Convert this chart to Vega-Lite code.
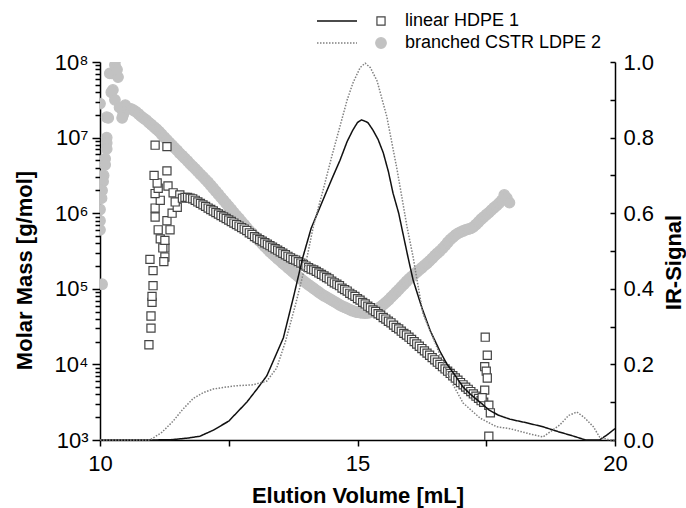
{
  "$schema": "https://vega.github.io/schema/vega-lite/v6.json",
  "width": 515,
  "height": 378,
  "autosize": {"type": "none"},
  "padding": {"left": 100, "top": 62, "right": 71, "bottom": 68},
  "background": "white",
  "config": {
    "font": "Liberation Sans",
    "view": {"stroke": null},
    "axis": {
      "grid": false,
      "domainColor": "#000",
      "domainWidth": 1.5,
      "tickColor": "#000",
      "tickWidth": 1.5,
      "labelColor": "#000",
      "titleColor": "#000",
      "labelFont": "Liberation Sans",
      "titleFont": "Liberation Sans",
      "labelFontSize": 22,
      "titleFontSize": 22,
      "titleFontWeight": "bold",
      "labelOverlap": false,
      "labelFlush": false
    },
    "legend": {"labelFont": "Liberation Sans", "labelColor": "#000", "labelLimit": 0}
  },
  "datasets": {
    "mm": [
      {"v": 10.0, "m": 2.82e7, "s": "L"},
      {"v": 10.13, "m": 1.86e7, "s": "L"},
      {"v": 10.13, "m": 1.0e7, "s": "L"},
      {"v": 10.13, "m": 8.51e6, "s": "L"},
      {"v": 10.13, "m": 7.08e6, "s": "L"},
      {"v": 10.1, "m": 5.25e6, "s": "L"},
      {"v": 10.1, "m": 4.37e6, "s": "L"},
      {"v": 10.07, "m": 3.16e6, "s": "L"},
      {"v": 10.06, "m": 2.63e6, "s": "L"},
      {"v": 10.04, "m": 2.0e6, "s": "L"},
      {"v": 10.03, "m": 1.58e6, "s": "L"},
      {"v": 10.0, "m": 1.12e6, "s": "L"},
      {"v": 10.0, "m": 7.94e5, "s": "L"},
      {"v": 10.0, "m": 6.03e5, "s": "L"},
      {"v": 10.04, "m": 1.15e5, "s": "L"},
      {"v": 10.19, "m": 7.08e7, "s": "L"},
      {"v": 10.23, "m": 7.08e7, "s": "L"},
      {"v": 10.29, "m": 9.12e7, "s": "L"},
      {"v": 10.3, "m": 1.07e8, "s": "L"},
      {"v": 10.35, "m": 6.31e7, "s": "L"},
      {"v": 10.33, "m": 7.94e7, "s": "L"},
      {"v": 10.25, "m": 4.27e7, "s": "L"},
      {"v": 10.22, "m": 3.98e7, "s": "L"},
      {"v": 10.29, "m": 3.16e7, "s": "L"},
      {"v": 10.43, "m": 2.34e7, "s": "L"},
      {"v": 10.45, "m": 2.0e7, "s": "L"},
      {"v": 10.49, "m": 2.69e7, "s": "L"},
      {"v": 10.43, "m": 1.82e7, "s": "L"},
      {"v": 10.16, "m": 1.82e7, "s": "L"},
      {"v": 10.38, "m": 2.51e7, "s": "L"},
      {"v": 10.52, "m": 2.51e7, "s": "L"},
      {"v": 10.6, "m": 2.4e7, "s": "L"},
      {"v": 10.65, "m": 2.3e7, "s": "L"},
      {"v": 10.7, "m": 2.19e7, "s": "L"},
      {"v": 10.75, "m": 2.05e7, "s": "L"},
      {"v": 10.8, "m": 1.91e7, "s": "L"},
      {"v": 10.85, "m": 1.8e7, "s": "L"},
      {"v": 10.9, "m": 1.7e7, "s": "L"},
      {"v": 10.95, "m": 1.58e7, "s": "L"},
      {"v": 11.0, "m": 1.48e7, "s": "L"},
      {"v": 11.05, "m": 1.38e7, "s": "L"},
      {"v": 11.1, "m": 1.29e7, "s": "L"},
      {"v": 11.15, "m": 1.2e7, "s": "L"},
      {"v": 11.2, "m": 1.1e7, "s": "L"},
      {"v": 11.25, "m": 1.01e7, "s": "L"},
      {"v": 11.3, "m": 9.33e6, "s": "L"},
      {"v": 11.35, "m": 8.6e6, "s": "L"},
      {"v": 11.4, "m": 7.94e6, "s": "L"},
      {"v": 11.45, "m": 7.3e6, "s": "L"},
      {"v": 11.5, "m": 6.76e6, "s": "L"},
      {"v": 11.55, "m": 6.2e6, "s": "L"},
      {"v": 11.6, "m": 5.75e6, "s": "L"},
      {"v": 11.65, "m": 5.3e6, "s": "L"},
      {"v": 11.7, "m": 4.9e6, "s": "L"},
      {"v": 11.75, "m": 4.5e6, "s": "L"},
      {"v": 11.8, "m": 4.17e6, "s": "L"},
      {"v": 11.85, "m": 3.85e6, "s": "L"},
      {"v": 11.9, "m": 3.55e6, "s": "L"},
      {"v": 11.95, "m": 3.27e6, "s": "L"},
      {"v": 12.0, "m": 3.02e6, "s": "L"},
      {"v": 12.05, "m": 2.78e6, "s": "L"},
      {"v": 12.1, "m": 2.57e6, "s": "L"},
      {"v": 12.15, "m": 2.34e6, "s": "L"},
      {"v": 12.2, "m": 2.14e6, "s": "L"},
      {"v": 12.25, "m": 1.95e6, "s": "L"},
      {"v": 12.3, "m": 1.78e6, "s": "L"},
      {"v": 12.35, "m": 1.62e6, "s": "L"},
      {"v": 12.4, "m": 1.48e6, "s": "L"},
      {"v": 12.45, "m": 1.35e6, "s": "L"},
      {"v": 12.5, "m": 1.23e6, "s": "L"},
      {"v": 12.55, "m": 1.12e6, "s": "L"},
      {"v": 12.6, "m": 1.02e6, "s": "L"},
      {"v": 12.65, "m": 9.3e5, "s": "L"},
      {"v": 12.7, "m": 8.51e5, "s": "L"},
      {"v": 12.75, "m": 7.75e5, "s": "L"},
      {"v": 12.8, "m": 7.08e5, "s": "L"},
      {"v": 12.85, "m": 6.45e5, "s": "L"},
      {"v": 12.9, "m": 5.89e5, "s": "L"},
      {"v": 12.95, "m": 5.45e5, "s": "L"},
      {"v": 13.0, "m": 5.01e5, "s": "L"},
      {"v": 13.05, "m": 4.63e5, "s": "L"},
      {"v": 13.1, "m": 4.27e5, "s": "L"},
      {"v": 13.15, "m": 3.94e5, "s": "L"},
      {"v": 13.2, "m": 3.63e5, "s": "L"},
      {"v": 13.25, "m": 3.35e5, "s": "L"},
      {"v": 13.3, "m": 3.09e5, "s": "L"},
      {"v": 13.35, "m": 2.88e5, "s": "L"},
      {"v": 13.4, "m": 2.69e5, "s": "L"},
      {"v": 13.45, "m": 2.5e5, "s": "L"},
      {"v": 13.5, "m": 2.34e5, "s": "L"},
      {"v": 13.55, "m": 2.18e5, "s": "L"},
      {"v": 13.6, "m": 2.04e5, "s": "L"},
      {"v": 13.65, "m": 1.9e5, "s": "L"},
      {"v": 13.7, "m": 1.78e5, "s": "L"},
      {"v": 13.75, "m": 1.66e5, "s": "L"},
      {"v": 13.8, "m": 1.55e5, "s": "L"},
      {"v": 13.85, "m": 1.45e5, "s": "L"},
      {"v": 13.9, "m": 1.35e5, "s": "L"},
      {"v": 13.95, "m": 1.27e5, "s": "L"},
      {"v": 14.0, "m": 1.2e5, "s": "L"},
      {"v": 14.05, "m": 1.13e5, "s": "L"},
      {"v": 14.1, "m": 1.07e5, "s": "L"},
      {"v": 14.15, "m": 1.01e5, "s": "L"},
      {"v": 14.2, "m": 9.55e4, "s": "L"},
      {"v": 14.25, "m": 9.0e4, "s": "L"},
      {"v": 14.3, "m": 8.51e4, "s": "L"},
      {"v": 14.35, "m": 8.1e4, "s": "L"},
      {"v": 14.4, "m": 7.76e4, "s": "L"},
      {"v": 14.45, "m": 7.4e4, "s": "L"},
      {"v": 14.5, "m": 7.08e4, "s": "L"},
      {"v": 14.55, "m": 6.75e4, "s": "L"},
      {"v": 14.6, "m": 6.46e4, "s": "L"},
      {"v": 14.65, "m": 6.15e4, "s": "L"},
      {"v": 14.7, "m": 5.89e4, "s": "L"},
      {"v": 14.75, "m": 5.7e4, "s": "L"},
      {"v": 14.8, "m": 5.5e4, "s": "L"},
      {"v": 14.85, "m": 5.3e4, "s": "L"},
      {"v": 14.9, "m": 5.13e4, "s": "L"},
      {"v": 14.95, "m": 5.0e4, "s": "L"},
      {"v": 15.0, "m": 4.9e4, "s": "L"},
      {"v": 15.05, "m": 4.83e4, "s": "L"},
      {"v": 15.1, "m": 4.79e4, "s": "L"},
      {"v": 15.15, "m": 4.78e4, "s": "L"},
      {"v": 15.2, "m": 4.79e4, "s": "L"},
      {"v": 15.25, "m": 4.88e4, "s": "L"},
      {"v": 15.3, "m": 5.01e4, "s": "L"},
      {"v": 15.35, "m": 5.25e4, "s": "L"},
      {"v": 15.4, "m": 5.5e4, "s": "L"},
      {"v": 15.45, "m": 5.8e4, "s": "L"},
      {"v": 15.5, "m": 6.17e4, "s": "L"},
      {"v": 15.55, "m": 6.6e4, "s": "L"},
      {"v": 15.6, "m": 7.08e4, "s": "L"},
      {"v": 15.65, "m": 7.7e4, "s": "L"},
      {"v": 15.7, "m": 8.32e4, "s": "L"},
      {"v": 15.75, "m": 9.0e4, "s": "L"},
      {"v": 15.8, "m": 9.77e4, "s": "L"},
      {"v": 15.85, "m": 1.06e5, "s": "L"},
      {"v": 15.9, "m": 1.15e5, "s": "L"},
      {"v": 15.95, "m": 1.25e5, "s": "L"},
      {"v": 16.0, "m": 1.35e5, "s": "L"},
      {"v": 16.05, "m": 1.45e5, "s": "L"},
      {"v": 16.1, "m": 1.55e5, "s": "L"},
      {"v": 16.15, "m": 1.66e5, "s": "L"},
      {"v": 16.2, "m": 1.78e5, "s": "L"},
      {"v": 16.25, "m": 1.9e5, "s": "L"},
      {"v": 16.3, "m": 2.04e5, "s": "L"},
      {"v": 16.35, "m": 2.18e5, "s": "L"},
      {"v": 16.4, "m": 2.34e5, "s": "L"},
      {"v": 16.45, "m": 2.52e5, "s": "L"},
      {"v": 16.5, "m": 2.75e5, "s": "L"},
      {"v": 16.55, "m": 2.95e5, "s": "L"},
      {"v": 16.6, "m": 3.16e5, "s": "L"},
      {"v": 16.65, "m": 3.42e5, "s": "L"},
      {"v": 16.7, "m": 3.72e5, "s": "L"},
      {"v": 16.75, "m": 4.1e5, "s": "L"},
      {"v": 16.8, "m": 4.47e5, "s": "L"},
      {"v": 16.85, "m": 4.8e5, "s": "L"},
      {"v": 16.9, "m": 5.13e5, "s": "L"},
      {"v": 16.95, "m": 5.4e5, "s": "L"},
      {"v": 17.0, "m": 5.62e5, "s": "L"},
      {"v": 17.05, "m": 5.82e5, "s": "L"},
      {"v": 17.1, "m": 6.03e5, "s": "L"},
      {"v": 17.15, "m": 6.15e5, "s": "L"},
      {"v": 17.2, "m": 6.31e5, "s": "L"},
      {"v": 17.25, "m": 6.6e5, "s": "L"},
      {"v": 17.3, "m": 7.08e5, "s": "L"},
      {"v": 17.35, "m": 7.65e5, "s": "L"},
      {"v": 17.4, "m": 8.32e5, "s": "L"},
      {"v": 17.45, "m": 8.9e5, "s": "L"},
      {"v": 17.5, "m": 9.55e5, "s": "L"},
      {"v": 17.55, "m": 1.02e6, "s": "L"},
      {"v": 17.6, "m": 1.1e6, "s": "L"},
      {"v": 17.65, "m": 1.18e6, "s": "L"},
      {"v": 17.7, "m": 1.26e6, "s": "L"},
      {"v": 17.75, "m": 1.36e6, "s": "L"},
      {"v": 17.8, "m": 1.48e6, "s": "L"},
      {"v": 17.85, "m": 1.74e6, "s": "L"},
      {"v": 17.9, "m": 1.58e6, "s": "L"},
      {"v": 17.95, "m": 1.38e6, "s": "L"},
      {"v": 10.95, "m": 1.82e4, "s": "H"},
      {"v": 10.99, "m": 3.02e4, "s": "H"},
      {"v": 10.99, "m": 4.37e4, "s": "H"},
      {"v": 11.01, "m": 6.61e4, "s": "H"},
      {"v": 11.01, "m": 7.94e4, "s": "H"},
      {"v": 11.03, "m": 1.1e5, "s": "H"},
      {"v": 11.03, "m": 1.74e5, "s": "H"},
      {"v": 10.97, "m": 2.45e5, "s": "H"},
      {"v": 11.26, "m": 2.63e5, "s": "H"},
      {"v": 11.24, "m": 2.29e5, "s": "H"},
      {"v": 11.26, "m": 3.47e5, "s": "H"},
      {"v": 11.17, "m": 4.57e5, "s": "H"},
      {"v": 11.13, "m": 6.03e5, "s": "H"},
      {"v": 11.07, "m": 8.91e5, "s": "H"},
      {"v": 11.07, "m": 1.17e6, "s": "H"},
      {"v": 11.17, "m": 1.48e6, "s": "H"},
      {"v": 11.07, "m": 1.82e6, "s": "H"},
      {"v": 11.13, "m": 2.14e6, "s": "H"},
      {"v": 11.11, "m": 2.51e6, "s": "H"},
      {"v": 11.05, "m": 3.16e6, "s": "H"},
      {"v": 11.3, "m": 3.63e6, "s": "H"},
      {"v": 11.32, "m": 2.29e6, "s": "H"},
      {"v": 11.07, "m": 7.94e6, "s": "H"},
      {"v": 11.3, "m": 7.59e6, "s": "H"},
      {"v": 11.22, "m": 3.47e5, "s": "H"},
      {"v": 11.26, "m": 4.37e5, "s": "H"},
      {"v": 11.3, "m": 7.94e5, "s": "H"},
      {"v": 11.36, "m": 6.03e5, "s": "H"},
      {"v": 11.4, "m": 1.0e6, "s": "H"},
      {"v": 11.42, "m": 1.86e6, "s": "H"},
      {"v": 11.5, "m": 1.2e6, "s": "H"},
      {"v": 11.55, "m": 1.74e6, "s": "H"},
      {"v": 11.46, "m": 1.41e6, "s": "H"},
      {"v": 11.6, "m": 1.58e6, "s": "H"},
      {"v": 11.65, "m": 1.62e6, "s": "H"},
      {"v": 11.7, "m": 1.62e6, "s": "H"},
      {"v": 11.75, "m": 1.58e6, "s": "H"},
      {"v": 11.8, "m": 1.55e6, "s": "H"},
      {"v": 11.85, "m": 1.48e6, "s": "H"},
      {"v": 11.9, "m": 1.41e6, "s": "H"},
      {"v": 11.95, "m": 1.35e6, "s": "H"},
      {"v": 12.0, "m": 1.29e6, "s": "H"},
      {"v": 12.05, "m": 1.23e6, "s": "H"},
      {"v": 12.1, "m": 1.17e6, "s": "H"},
      {"v": 12.15, "m": 1.12e6, "s": "H"},
      {"v": 12.2, "m": 1.07e6, "s": "H"},
      {"v": 12.25, "m": 1.02e6, "s": "H"},
      {"v": 12.3, "m": 9.77e5, "s": "H"},
      {"v": 12.35, "m": 9.33e5, "s": "H"},
      {"v": 12.4, "m": 8.91e5, "s": "H"},
      {"v": 12.45, "m": 8.51e5, "s": "H"},
      {"v": 12.5, "m": 8.13e5, "s": "H"},
      {"v": 12.55, "m": 7.76e5, "s": "H"},
      {"v": 12.6, "m": 7.41e5, "s": "H"},
      {"v": 12.65, "m": 7.08e5, "s": "H"},
      {"v": 12.7, "m": 6.76e5, "s": "H"},
      {"v": 12.75, "m": 6.46e5, "s": "H"},
      {"v": 12.8, "m": 6.17e5, "s": "H"},
      {"v": 12.85, "m": 5.89e5, "s": "H"},
      {"v": 12.9, "m": 5.5e5, "s": "H"},
      {"v": 12.95, "m": 5.25e5, "s": "H"},
      {"v": 13.0, "m": 4.9e5, "s": "H"},
      {"v": 13.05, "m": 4.68e5, "s": "H"},
      {"v": 13.1, "m": 4.47e5, "s": "H"},
      {"v": 13.15, "m": 4.27e5, "s": "H"},
      {"v": 13.2, "m": 4.07e5, "s": "H"},
      {"v": 13.25, "m": 3.89e5, "s": "H"},
      {"v": 13.3, "m": 3.72e5, "s": "H"},
      {"v": 13.35, "m": 3.55e5, "s": "H"},
      {"v": 13.4, "m": 3.39e5, "s": "H"},
      {"v": 13.45, "m": 3.24e5, "s": "H"},
      {"v": 13.5, "m": 3.09e5, "s": "H"},
      {"v": 13.55, "m": 2.95e5, "s": "H"},
      {"v": 13.6, "m": 2.82e5, "s": "H"},
      {"v": 13.65, "m": 2.69e5, "s": "H"},
      {"v": 13.7, "m": 2.57e5, "s": "H"},
      {"v": 13.75, "m": 2.45e5, "s": "H"},
      {"v": 13.8, "m": 2.4e5, "s": "H"},
      {"v": 13.85, "m": 2.29e5, "s": "H"},
      {"v": 13.9, "m": 2.19e5, "s": "H"},
      {"v": 13.95, "m": 2.09e5, "s": "H"},
      {"v": 14.0, "m": 2.0e5, "s": "H"},
      {"v": 14.05, "m": 1.91e5, "s": "H"},
      {"v": 14.1, "m": 1.82e5, "s": "H"},
      {"v": 14.15, "m": 1.78e5, "s": "H"},
      {"v": 14.2, "m": 1.7e5, "s": "H"},
      {"v": 14.25, "m": 1.62e5, "s": "H"},
      {"v": 14.3, "m": 1.55e5, "s": "H"},
      {"v": 14.35, "m": 1.48e5, "s": "H"},
      {"v": 14.4, "m": 1.41e5, "s": "H"},
      {"v": 14.45, "m": 1.35e5, "s": "H"},
      {"v": 14.5, "m": 1.26e5, "s": "H"},
      {"v": 14.55, "m": 1.2e5, "s": "H"},
      {"v": 14.6, "m": 1.15e5, "s": "H"},
      {"v": 14.65, "m": 1.1e5, "s": "H"},
      {"v": 14.7, "m": 1.02e5, "s": "H"},
      {"v": 14.75, "m": 9.77e4, "s": "H"},
      {"v": 14.8, "m": 9.33e4, "s": "H"},
      {"v": 14.85, "m": 8.71e4, "s": "H"},
      {"v": 14.9, "m": 8.32e4, "s": "H"},
      {"v": 14.95, "m": 7.94e4, "s": "H"},
      {"v": 15.0, "m": 7.41e4, "s": "H"},
      {"v": 15.05, "m": 7.08e4, "s": "H"},
      {"v": 15.1, "m": 6.61e4, "s": "H"},
      {"v": 15.15, "m": 6.31e4, "s": "H"},
      {"v": 15.2, "m": 5.89e4, "s": "H"},
      {"v": 15.25, "m": 5.62e4, "s": "H"},
      {"v": 15.3, "m": 5.25e4, "s": "H"},
      {"v": 15.35, "m": 5.01e4, "s": "H"},
      {"v": 15.4, "m": 4.68e4, "s": "H"},
      {"v": 15.45, "m": 4.47e4, "s": "H"},
      {"v": 15.5, "m": 4.17e4, "s": "H"},
      {"v": 15.55, "m": 3.98e4, "s": "H"},
      {"v": 15.6, "m": 3.72e4, "s": "H"},
      {"v": 15.65, "m": 3.55e4, "s": "H"},
      {"v": 15.7, "m": 3.31e4, "s": "H"},
      {"v": 15.75, "m": 3.09e4, "s": "H"},
      {"v": 15.8, "m": 2.95e4, "s": "H"},
      {"v": 15.85, "m": 2.75e4, "s": "H"},
      {"v": 15.9, "m": 2.57e4, "s": "H"},
      {"v": 15.95, "m": 2.45e4, "s": "H"},
      {"v": 16.0, "m": 2.29e4, "s": "H"},
      {"v": 16.05, "m": 2.14e4, "s": "H"},
      {"v": 16.1, "m": 2.0e4, "s": "H"},
      {"v": 16.15, "m": 1.86e4, "s": "H"},
      {"v": 16.2, "m": 1.74e4, "s": "H"},
      {"v": 16.25, "m": 1.62e4, "s": "H"},
      {"v": 16.3, "m": 1.51e4, "s": "H"},
      {"v": 16.35, "m": 1.41e4, "s": "H"},
      {"v": 16.4, "m": 1.32e4, "s": "H"},
      {"v": 16.45, "m": 1.23e4, "s": "H"},
      {"v": 16.5, "m": 1.15e4, "s": "H"},
      {"v": 16.55, "m": 1.07e4, "s": "H"},
      {"v": 16.6, "m": 1.0e4, "s": "H"},
      {"v": 16.65, "m": 9.33e3, "s": "H"},
      {"v": 16.7, "m": 8.71e3, "s": "H"},
      {"v": 16.75, "m": 8.13e3, "s": "H"},
      {"v": 16.8, "m": 7.59e3, "s": "H"},
      {"v": 16.85, "m": 7.08e3, "s": "H"},
      {"v": 16.9, "m": 6.61e3, "s": "H"},
      {"v": 16.95, "m": 6.17e3, "s": "H"},
      {"v": 17.0, "m": 5.75e3, "s": "H"},
      {"v": 17.05, "m": 5.37e3, "s": "H"},
      {"v": 17.1, "m": 5.01e3, "s": "H"},
      {"v": 17.15, "m": 4.68e3, "s": "H"},
      {"v": 17.2, "m": 4.37e3, "s": "H"},
      {"v": 17.25, "m": 4.07e3, "s": "H"},
      {"v": 17.3, "m": 3.8e3, "s": "H"},
      {"v": 17.35, "m": 3.55e3, "s": "H"},
      {"v": 17.4, "m": 3.31e3, "s": "H"},
      {"v": 17.45, "m": 3.16e3, "s": "H"},
      {"v": 17.48, "m": 2.29e4, "s": "H"},
      {"v": 17.52, "m": 1.32e4, "s": "H"},
      {"v": 17.47, "m": 9.33e3, "s": "H"},
      {"v": 17.5, "m": 8.13e3, "s": "H"},
      {"v": 17.52, "m": 6.61e3, "s": "H"},
      {"v": 17.47, "m": 4.57e3, "s": "H"},
      {"v": 17.42, "m": 3.63e3, "s": "H"},
      {"v": 17.55, "m": 2.88e3, "s": "H"},
      {"v": 17.58, "m": 2.29e3, "s": "H"},
      {"v": 17.55, "m": 1.12e3, "s": "H"}
    ],
    "ir": [
      {"v": 10.0, "ir": 0.0, "s": "H"},
      {"v": 10.5, "ir": 0.0, "s": "H"},
      {"v": 11.0, "ir": 0.0, "s": "H"},
      {"v": 11.4, "ir": 0.001, "s": "H"},
      {"v": 11.7, "ir": 0.005, "s": "H"},
      {"v": 11.94, "ir": 0.01, "s": "H"},
      {"v": 12.2, "ir": 0.026, "s": "H"},
      {"v": 12.5, "ir": 0.05, "s": "H"},
      {"v": 12.85, "ir": 0.1, "s": "H"},
      {"v": 13.05, "ir": 0.135, "s": "H"},
      {"v": 13.24, "ir": 0.17, "s": "H"},
      {"v": 13.4, "ir": 0.22, "s": "H"},
      {"v": 13.56, "ir": 0.27, "s": "H"},
      {"v": 13.76, "ir": 0.38, "s": "H"},
      {"v": 13.94, "ir": 0.484, "s": "H"},
      {"v": 14.1, "ir": 0.56, "s": "H"},
      {"v": 14.33, "ir": 0.635, "s": "H"},
      {"v": 14.5, "ir": 0.69, "s": "H"},
      {"v": 14.66, "ir": 0.74, "s": "H"},
      {"v": 14.8, "ir": 0.79, "s": "H"},
      {"v": 14.91, "ir": 0.82, "s": "H"},
      {"v": 15.0, "ir": 0.84, "s": "H"},
      {"v": 15.08, "ir": 0.847, "s": "H"},
      {"v": 15.2, "ir": 0.84, "s": "H"},
      {"v": 15.3, "ir": 0.82, "s": "H"},
      {"v": 15.4, "ir": 0.795, "s": "H"},
      {"v": 15.5, "ir": 0.76, "s": "H"},
      {"v": 15.6, "ir": 0.71, "s": "H"},
      {"v": 15.69, "ir": 0.653, "s": "H"},
      {"v": 15.8, "ir": 0.6, "s": "H"},
      {"v": 15.88, "ir": 0.548, "s": "H"},
      {"v": 15.98, "ir": 0.484, "s": "H"},
      {"v": 16.08, "ir": 0.423, "s": "H"},
      {"v": 16.25, "ir": 0.35, "s": "H"},
      {"v": 16.41, "ir": 0.29, "s": "H"},
      {"v": 16.6, "ir": 0.235, "s": "H"},
      {"v": 16.74, "ir": 0.2, "s": "H"},
      {"v": 16.9, "ir": 0.17, "s": "H"},
      {"v": 17.05, "ir": 0.14, "s": "H"},
      {"v": 17.2, "ir": 0.12, "s": "H"},
      {"v": 17.38, "ir": 0.1, "s": "H"},
      {"v": 17.55, "ir": 0.08, "s": "H"},
      {"v": 17.73, "ir": 0.066, "s": "H"},
      {"v": 17.96, "ir": 0.055, "s": "H"},
      {"v": 18.3, "ir": 0.045, "s": "H"},
      {"v": 18.6, "ir": 0.035, "s": "H"},
      {"v": 18.9, "ir": 0.022, "s": "H"},
      {"v": 19.2, "ir": 0.01, "s": "H"},
      {"v": 19.43, "ir": 0.0, "s": "H"},
      {"v": 19.7, "ir": 0.0, "s": "H"},
      {"v": 19.85, "ir": 0.014, "s": "H"},
      {"v": 20.0, "ir": 0.03, "s": "H"},
      {"v": 10.0, "ir": 0.0, "s": "L"},
      {"v": 10.5, "ir": 0.0, "s": "L"},
      {"v": 10.97, "ir": 0.0, "s": "L"},
      {"v": 11.2, "ir": 0.02, "s": "L"},
      {"v": 11.42, "ir": 0.05, "s": "L"},
      {"v": 11.6, "ir": 0.08, "s": "L"},
      {"v": 11.81, "ir": 0.11, "s": "L"},
      {"v": 12.0, "ir": 0.125, "s": "L"},
      {"v": 12.2, "ir": 0.135, "s": "L"},
      {"v": 12.6, "ir": 0.143, "s": "L"},
      {"v": 12.97, "ir": 0.146, "s": "L"},
      {"v": 13.24, "ir": 0.156, "s": "L"},
      {"v": 13.43, "ir": 0.19, "s": "L"},
      {"v": 13.6, "ir": 0.26, "s": "L"},
      {"v": 13.8, "ir": 0.36, "s": "L"},
      {"v": 14.0, "ir": 0.47, "s": "L"},
      {"v": 14.15, "ir": 0.57, "s": "L"},
      {"v": 14.33, "ir": 0.66, "s": "L"},
      {"v": 14.5, "ir": 0.75, "s": "L"},
      {"v": 14.66, "ir": 0.83, "s": "L"},
      {"v": 14.8, "ir": 0.9, "s": "L"},
      {"v": 14.91, "ir": 0.944, "s": "L"},
      {"v": 15.05, "ir": 0.985, "s": "L"},
      {"v": 15.15, "ir": 0.997, "s": "L"},
      {"v": 15.25, "ir": 0.985, "s": "L"},
      {"v": 15.38, "ir": 0.95, "s": "L"},
      {"v": 15.57, "ir": 0.855, "s": "L"},
      {"v": 15.77, "ir": 0.714, "s": "L"},
      {"v": 15.96, "ir": 0.565, "s": "L"},
      {"v": 16.08, "ir": 0.484, "s": "L"},
      {"v": 16.16, "ir": 0.42, "s": "L"},
      {"v": 16.27, "ir": 0.335, "s": "L"},
      {"v": 16.54, "ir": 0.246, "s": "L"},
      {"v": 16.8, "ir": 0.16, "s": "L"},
      {"v": 17.05, "ir": 0.098, "s": "L"},
      {"v": 17.38, "ir": 0.058, "s": "L"},
      {"v": 17.7, "ir": 0.035, "s": "L"},
      {"v": 17.96, "ir": 0.03, "s": "L"},
      {"v": 18.35, "ir": 0.016, "s": "L"},
      {"v": 18.6, "ir": 0.008, "s": "L"},
      {"v": 18.93, "ir": 0.04, "s": "L"},
      {"v": 19.1, "ir": 0.065, "s": "L"},
      {"v": 19.26, "ir": 0.074, "s": "L"},
      {"v": 19.4, "ir": 0.06, "s": "L"},
      {"v": 19.58, "ir": 0.035, "s": "L"},
      {"v": 19.7, "ir": 0.008, "s": "L"},
      {"v": 19.9, "ir": 0.0, "s": "L"},
      {"v": 20.0, "ir": 0.0, "s": "L"}
    ]
  },
  "layer": [
    {
      "data": {"name": "mm"},
      "layer": [
        {
          "mark": {"type": "point", "filled": true, "opacity": 1, "strokeWidth": 1.2, "clip": true},
          "encoding": {
            "x": {
              "field": "v", "type": "quantitative",
              "scale": {"domain": [10, 20], "nice": false, "zero": false},
              "axis": {
                "values": [10, 12.5, 15, 17.5, 20],
                "labelExpr": "datum.value % 5 == 0 ? format(datum.value, 'd') : ''",
                "tickSize": 6,
                "labelPadding": 7,
                "title": "Elution Volume [mL]",
                "titleY": 62,
                "titleBaseline": "alphabetic"
              }
            },
            "y": {
              "field": "m", "type": "quantitative",
              "scale": {"type": "log", "domain": [1000, 100000000], "nice": false},
              "axis": {
                "orient": "left",
                "values": [1000, 10000, 100000, 1000000, 10000000, 100000000],
                "labelExpr": "'10' + substring('⁰¹²³⁴⁵⁶⁷⁸⁹', round(log(datum.value)/LN10), round(log(datum.value)/LN10) + 1)",
                "tickSize": 8,
                "labelPadding": 4,
                "title": "Molar Mass [g/mol]",
                "titleX": -76,
                "titleY": 208,
                "titleAngle": 270,
                "titleAlign": "center",
                "titleBaseline": "middle"
              }
            },
            "size": {
              "field": "s", "type": "nominal",
              "scale": {"domain": ["H", "L"], "range": [66, 112]},
              "legend": {"orient": "none", "legendX": 272, "legendY": -50, "title": null, "padding": 0, "labelExpr": "datum.label == 'H' ? 'linear HDPE 1' : 'branched CSTR LDPE 2'", "labelFontSize": 18, "labelOffset": 15, "rowPadding": 4, "symbolStrokeWidth": 1.2, "symbolOpacity": 1, "labelLimit": 0}
            },
            "shape": {
              "field": "s", "type": "nominal",
              "scale": {"domain": ["H", "L"], "range": ["square", "circle"]},
              "legend": {"orient": "none", "legendX": 272, "legendY": -50, "title": null, "padding": 0, "labelExpr": "datum.label == 'H' ? 'linear HDPE 1' : 'branched CSTR LDPE 2'", "labelFontSize": 18, "labelOffset": 15, "rowPadding": 4, "symbolStrokeWidth": 1.2, "symbolOpacity": 1, "labelLimit": 0}
            },
            "fill": {
              "field": "s", "type": "nominal",
              "scale": {"domain": ["H", "L"], "range": ["#ffffff", "#c2c2c2"]},
              "legend": {"orient": "none", "legendX": 272, "legendY": -50, "title": null, "padding": 0, "labelExpr": "datum.label == 'H' ? 'linear HDPE 1' : 'branched CSTR LDPE 2'", "labelFontSize": 18, "labelOffset": 15, "rowPadding": 4, "symbolStrokeWidth": 1.2, "symbolOpacity": 1, "labelLimit": 0}
            },
            "stroke": {
              "field": "s", "type": "nominal",
              "scale": {"domain": ["H", "L"], "range": ["#444444", "#c2c2c2"]},
              "legend": {"orient": "none", "legendX": 272, "legendY": -50, "title": null, "padding": 0, "labelExpr": "datum.label == 'H' ? 'linear HDPE 1' : 'branched CSTR LDPE 2'", "labelFontSize": 18, "labelOffset": 15, "rowPadding": 4, "symbolStrokeWidth": 1.2, "symbolOpacity": 1, "labelLimit": 0}
            }
          }
        },
        {
          "mark": {"type": "point", "opacity": 0, "clip": true},
          "encoding": {
            "x": {
              "field": "v", "type": "quantitative",
              "scale": {"domain": [10, 20], "nice": false, "zero": false},
              "axis": {
                "values": [10, 12.5, 15, 17.5, 20],
                "labelExpr": "datum.value % 5 == 0 ? format(datum.value, 'd') : ''",
                "tickSize": 6,
                "labelPadding": 7,
                "title": "Elution Volume [mL]",
                "titleY": 62,
                "titleBaseline": "alphabetic"
              }
            },
            "y": {
              "field": "m", "type": "quantitative",
              "scale": {"type": "log", "domain": [1000, 100000000], "nice": false},
              "axis": {
                "orient": "left",
                "values": [2000, 3000, 4000, 5000, 6000, 7000, 8000, 9000, 20000, 30000, 40000, 50000, 60000, 70000, 80000, 90000, 200000, 300000, 400000, 500000, 600000, 700000, 800000, 900000, 2000000, 3000000, 4000000, 5000000, 6000000, 7000000, 8000000, 9000000, 20000000, 30000000, 40000000, 50000000, 60000000, 70000000, 80000000, 90000000],
                "labels": false,
                "domain": false,
                "tickSize": 5,
                "title": null
              }
            }
          }
        }
      ],
      "resolve": {"axis": {"y": "independent"}}
    },
    {
      "data": {"name": "ir"},
      "mark": {"type": "line", "strokeWidth": 1.5},
      "encoding": {
        "x": {
          "field": "v", "type": "quantitative",
          "scale": {"domain": [10, 20], "nice": false, "zero": false},
          "axis": {
            "values": [10, 12.5, 15, 17.5, 20],
            "labelExpr": "datum.value % 5 == 0 ? format(datum.value, 'd') : ''",
            "tickSize": 6,
            "labelPadding": 7,
            "title": "Elution Volume [mL]",
            "titleY": 62,
            "titleBaseline": "alphabetic"
          }
        },
        "y": {
          "field": "ir", "type": "quantitative",
          "scale": {"domain": [0, 1], "nice": false},
          "axis": {
            "orient": "right",
            "values": [0, 0.1, 0.2, 0.3, 0.4, 0.5, 0.6, 0.7, 0.8, 0.9, 1.0],
            "labelExpr": "round(datum.value * 10) % 2 == 0 ? format(datum.value, '.1f') : ''",
            "tickSize": -5,
            "labelPadding": 13,
            "title": "IR-Signal",
            "titleX": 58,
            "titleY": 200,
            "titleAngle": 270,
            "titleAlign": "center",
            "titleBaseline": "middle"
          }
        },
        "color": {
          "field": "s", "type": "nominal",
          "scale": {"domain": ["H", "L"], "range": ["#111111", "#808080"]},
          "legend": {"orient": "none", "legendX": 228, "legendY": -50, "title": null, "padding": 0, "labelOpacity": 0, "labelFontSize": 18, "rowPadding": 4, "symbolType": "M-4,0H4", "symbolSize": 100, "symbolStrokeWidth": 1.5}
        },
        "strokeDash": {
          "field": "s", "type": "nominal",
          "scale": {"domain": ["H", "L"], "range": [[1, 0], [1.5, 1.5]]},
          "legend": {"orient": "none", "legendX": 228, "legendY": -50, "title": null, "padding": 0, "labelOpacity": 0, "labelFontSize": 18, "rowPadding": 4, "symbolType": "M-4,0H4", "symbolSize": 100, "symbolStrokeWidth": 1.5}
        }
      }
    }
  ],
  "resolve": {
    "scale": {"y": "independent", "color": "independent", "strokeDash": "independent"},
    "axis": {"y": "independent"}
  }
}
